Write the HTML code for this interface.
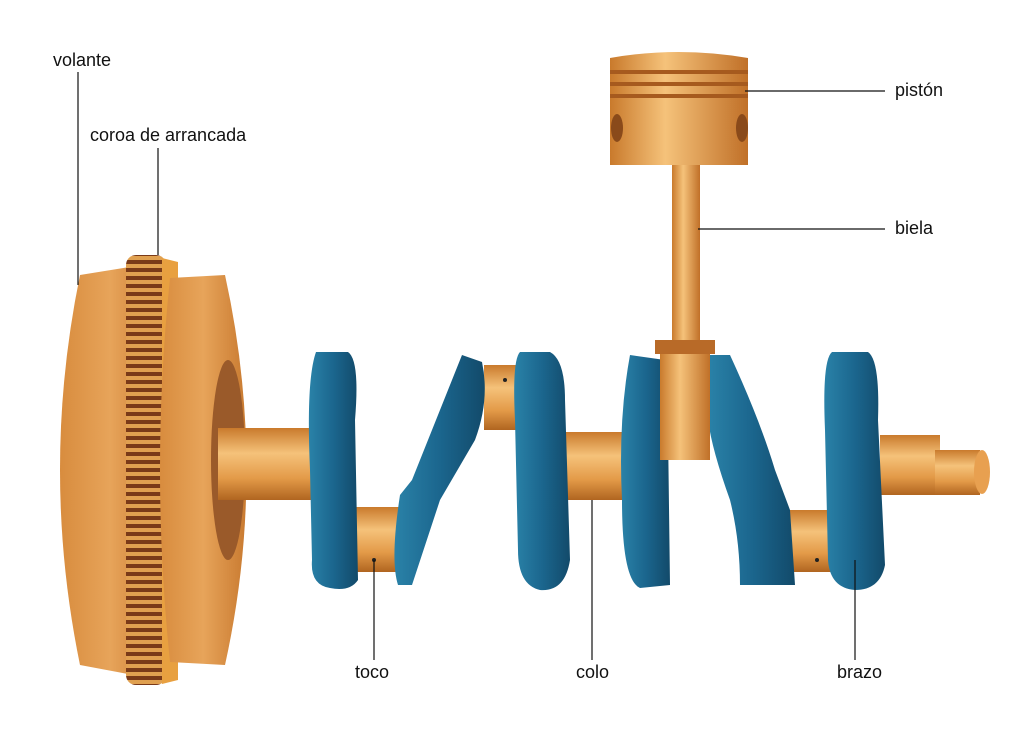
<!DOCTYPE html>
<html><head><meta charset="utf-8"><style>
html,body{margin:0;padding:0;background:#fff;}
svg{display:block}
text{font-family:"Liberation Sans",sans-serif;font-size:18px;fill:#111}
</style></head><body>
<svg width="1024" height="732" viewBox="0 0 1024 732" xmlns="http://www.w3.org/2000/svg">
<defs>
<linearGradient id="og" x1="0" y1="0" x2="0" y2="1">
<stop offset="0" stop-color="#c97a2c"/><stop offset="0.35" stop-color="#f5c27a"/><stop offset="0.7" stop-color="#e39a48"/><stop offset="1" stop-color="#b06520"/></linearGradient>
<linearGradient id="oh" x1="0" y1="0" x2="1" y2="0">
<stop offset="0" stop-color="#c97a2c"/><stop offset="0.4" stop-color="#f5c27a"/><stop offset="1" stop-color="#c07028"/></linearGradient>
<linearGradient id="fw" x1="0" y1="0" x2="1" y2="0">
<stop offset="0" stop-color="#d88c3e"/><stop offset="0.5" stop-color="#e7a45a"/><stop offset="1" stop-color="#c97a30"/></linearGradient>
<linearGradient id="bl" x1="0" y1="0" x2="1" y2="0">
<stop offset="0" stop-color="#2a82a8"/><stop offset="0.5" stop-color="#1b668e"/><stop offset="1" stop-color="#124a6a"/></linearGradient>
<pattern id="teeth" width="10" height="8" patternUnits="userSpaceOnUse">
<rect width="10" height="8" fill="#7a3a18"/><rect y="0" width="10" height="4" fill="#e0a050"/></pattern>
</defs>
<!-- flywheel -->
<path d="M80,275 L160,262 L160,680 L80,665 Q40,470 80,275Z" fill="url(#fw)"/>
<rect x="126" y="255" width="40" height="430" rx="10" fill="url(#teeth)"/>
<path d="M162,258 L178,262 L178,680 L162,684Z" fill="#e8a040"/>
<path d="M170,278 L225,275 Q268,470 225,665 L170,662 Q150,470 170,278Z" fill="url(#fw)"/>
<ellipse cx="228" cy="460" rx="17" ry="100" fill="#9a5a2a"/>
<!-- shafts -->
<rect x="218" y="428" width="97" height="72" fill="url(#og)"/>
<rect x="565" y="432" width="62" height="68" fill="url(#og)"/>
<rect x="880" y="435" width="60" height="60" fill="url(#og)"/>
<rect x="935" y="450" width="45" height="45" fill="url(#og)"/>
<ellipse cx="982" cy="472" rx="8" ry="22" fill="#e8a050"/>
<!-- pins -->
<rect x="352" y="507" width="48" height="65" fill="url(#og)"/>
<rect x="484" y="365" width="38" height="65" fill="url(#og)"/>
<rect x="790" y="510" width="45" height="62" fill="url(#og)"/>
<circle cx="374" cy="560" r="2" fill="#222"/><circle cx="505" cy="380" r="2" fill="#222"/><circle cx="817" cy="560" r="2" fill="#222"/>
<!-- arms -->
<path d="M316,352 L348,352 Q360,360 355,420 L358,580 Q350,592 330,588 Q310,585 312,560 L310,470 Q306,380 316,352Z" fill="url(#bl)"/>
<path d="M462,355 L482,362 Q490,400 475,440 L440,500 L412,585 L398,585 Q390,560 400,495 L412,480 Q440,410 462,355Z" fill="url(#bl)"/>
<path d="M520,352 L550,352 Q565,360 565,400 L570,560 Q565,592 540,590 Q518,585 518,550 L515,420 Q512,360 520,352Z" fill="url(#bl)"/>
<path d="M630,355 L665,360 L668,430 L670,585 L640,588 Q622,580 622,500 Q618,420 630,355Z" fill="url(#bl)"/>
<path d="M710,355 L730,355 Q760,420 775,470 L790,510 L795,585 L740,585 Q740,540 730,500 Q712,450 708,420Z" fill="url(#bl)"/>
<path d="M832,352 L868,352 Q880,360 878,420 L885,565 Q880,590 855,590 Q830,588 828,560 L825,430 Q822,360 832,352Z" fill="url(#bl)"/>
<!-- connecting rod -->
<rect x="672" y="162" width="28" height="180" fill="url(#oh)"/>
<rect x="660" y="340" width="50" height="120" fill="url(#oh)"/>
<rect x="655" y="340" width="60" height="14" fill="#b86a28"/>
<!-- piston -->
<path d="M610,58 Q678,46 748,58 L748,165 L610,165Z" fill="url(#oh)"/>
<rect x="610" y="70" width="138" height="4" fill="#a65a1e"/>
<rect x="610" y="82" width="138" height="4" fill="#a65a1e"/>
<rect x="610" y="94" width="138" height="4" fill="#a65a1e"/>
<ellipse cx="617" cy="128" rx="6" ry="14" fill="#8a4a1a"/><ellipse cx="742" cy="128" rx="6" ry="14" fill="#8a4a1a"/>
<!-- leader lines -->
<g stroke="#111" stroke-width="1.2" fill="none">
<line x1="78" y1="72" x2="78" y2="285"/>
<line x1="158" y1="148" x2="158" y2="255"/>
<line x1="745" y1="91" x2="885" y2="91"/>
<line x1="698" y1="229" x2="885" y2="229"/>
<line x1="374" y1="560" x2="374" y2="660"/>
<line x1="592" y1="500" x2="592" y2="660"/>
<line x1="855" y1="560" x2="855" y2="660"/>
</g>
<text x="53" y="66">volante</text>
<text x="90" y="141">coroa de arrancada</text>
<text x="895" y="96">pistón</text>
<text x="895" y="234">biela</text>
<text x="355" y="678">toco</text>
<text x="576" y="678">colo</text>
<text x="837" y="678">brazo</text>
</svg>
</body></html>
